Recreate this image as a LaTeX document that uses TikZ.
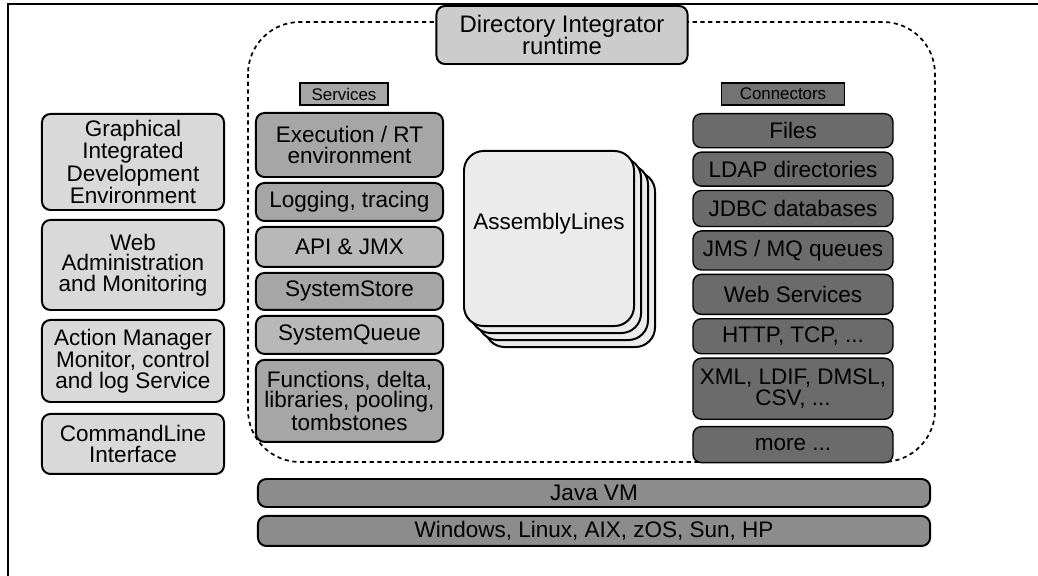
\documentclass[tikz,border=0pt]{standalone}
\usepackage{fontspec}
\setmainfont{Liberation Sans}
\usetikzlibrary{positioning}

\tikzset{
  box/.style={draw=black, line width=1.4pt, rounded corners=6pt, align=center,
    inner sep=2pt, font=\fontsize{16}{14.5}\selectfont},
  tool/.style={box, fill=black!15, minimum width=4.55cm},
  svc/.style={box, fill=black!35, minimum width=4.675cm},
  conn/.style={box, fill=black!58, text=black, minimum width=5cm, line width=1pt},
  tag/.style={draw=black, line width=1.1pt, inner sep=2pt, minimum height=0.55cm,
    font=\fontsize{12}{13}\selectfont},
  base/.style={box, fill=black!45, minimum width=16.8cm},
  card/.style={box, fill=black!8, minimum width=4.25cm, minimum height=4.375cm, rounded corners=14pt},
  runtime/.style={dash pattern=on 3pt off 2.5pt, line width=1.2pt, rounded corners=1.3cm},
}

\begin{document}
\begin{tikzpicture}[x=0.025cm, y=-0.025cm]
  \useasboundingbox (0,0) rectangle (1038,576);
  \draw[line width=0.9pt] (8,576) -- (8,4) -- (1038,4);
  \draw[runtime] (248,22) rectangle (935,462);

  \node[box, fill=black!20, minimum width=6.275cm, minimum height=1.45cm,
    font=\fontsize{17}{16}\selectfont] (rt) at (562,35) {Directory Integrator\\runtime};

  % tools
  \node[tool, minimum height=2.4cm, anchor=north] (gide) at (133,113) {Graphical\\Integrated\\Development\\Environment};
  \node[tool, minimum height=2.25cm, below=0.2cm of gide] (web) {Web\\Administration\\and Monitoring};
  \node[tool, minimum height=2.05cm, below=0.2cm of web] (amc) {Action Manager\\Monitor, control\\and log Service};
  \node[tool, minimum height=1.5cm, below=0.25cm of amc] (cli) {CommandLine\\Interface};

  % services
  \node[tag, fill=black!35, minimum width=2.2cm] (svclbl) at (344,94) {Services};
  \node[svc, minimum height=1.6cm, anchor=north] (exe) at (349.5,112) {Execution / RT\\environment};
  \node[svc, minimum height=0.95cm, below=0.1cm of exe] (log) {Logging, tracing};
  \node[svc, fill=black!28, minimum height=1cm, below=0.1cm of log] (api) {API \& JMX};
  \node[svc, minimum height=0.925cm, below=0.1cm of api] (store) {SystemStore};
  \node[svc, fill=black!28, minimum height=0.95cm, below=0.1cm of store] (queue) {SystemQueue};
  \node[svc, minimum height=2.05cm, below=0.1cm of queue] (func) {Functions, delta,\\libraries, pooling,\\tombstones};

  % assembly lines
  \node[card, anchor=north west] (al3) at (484,171) {};
  \node[card, anchor=north west] (al2) at (477,164) {};
  \node[card, anchor=north west] (al1) at (470,157) {};
  \node[card, anchor=north west] (al) at (463,150) {};
  \node[font=\fontsize{16}{16}\selectfont, below=1.45cm of al.north] (altxt) {AssemblyLines};

  % connectors
  \node[tag, fill=black!55, text=black, minimum width=3.075cm] (connlbl) at (783,94) {Connectors};
  \node[conn, minimum height=0.85cm, anchor=north] (files) at (793,113) {Files};
  \node[conn, minimum height=0.85cm, below=0.075cm of files] (ldap) {LDAP directories};
  \node[conn, minimum height=0.9cm, below=0.075cm of ldap] (jdbc) {JDBC databases};
  \node[conn, minimum height=0.975cm, below=0.075cm of jdbc] (jms) {JMS / MQ queues};
  \node[conn, minimum height=1cm, below=0.075cm of jms] (ws) {Web Services};
  \node[conn, minimum height=0.875cm, below=0.075cm of ws] (http) {HTTP, TCP, ...};
  \node[conn, minimum height=1.525cm, below=0.075cm of http] (xml) {XML, LDIF, DMSL,\\CSV, ...};
  \node[conn, minimum height=0.9cm, below=0.15cm of xml] (more) {more ...};

  % platform
  \node[base, minimum height=0.7cm] (jvm) at (594,493) {Java VM};
  \node[base, minimum height=0.75cm, below=0.175cm of jvm] (os) {Windows, Linux, AIX, zOS, Sun, HP};
\end{tikzpicture}
\end{document}
